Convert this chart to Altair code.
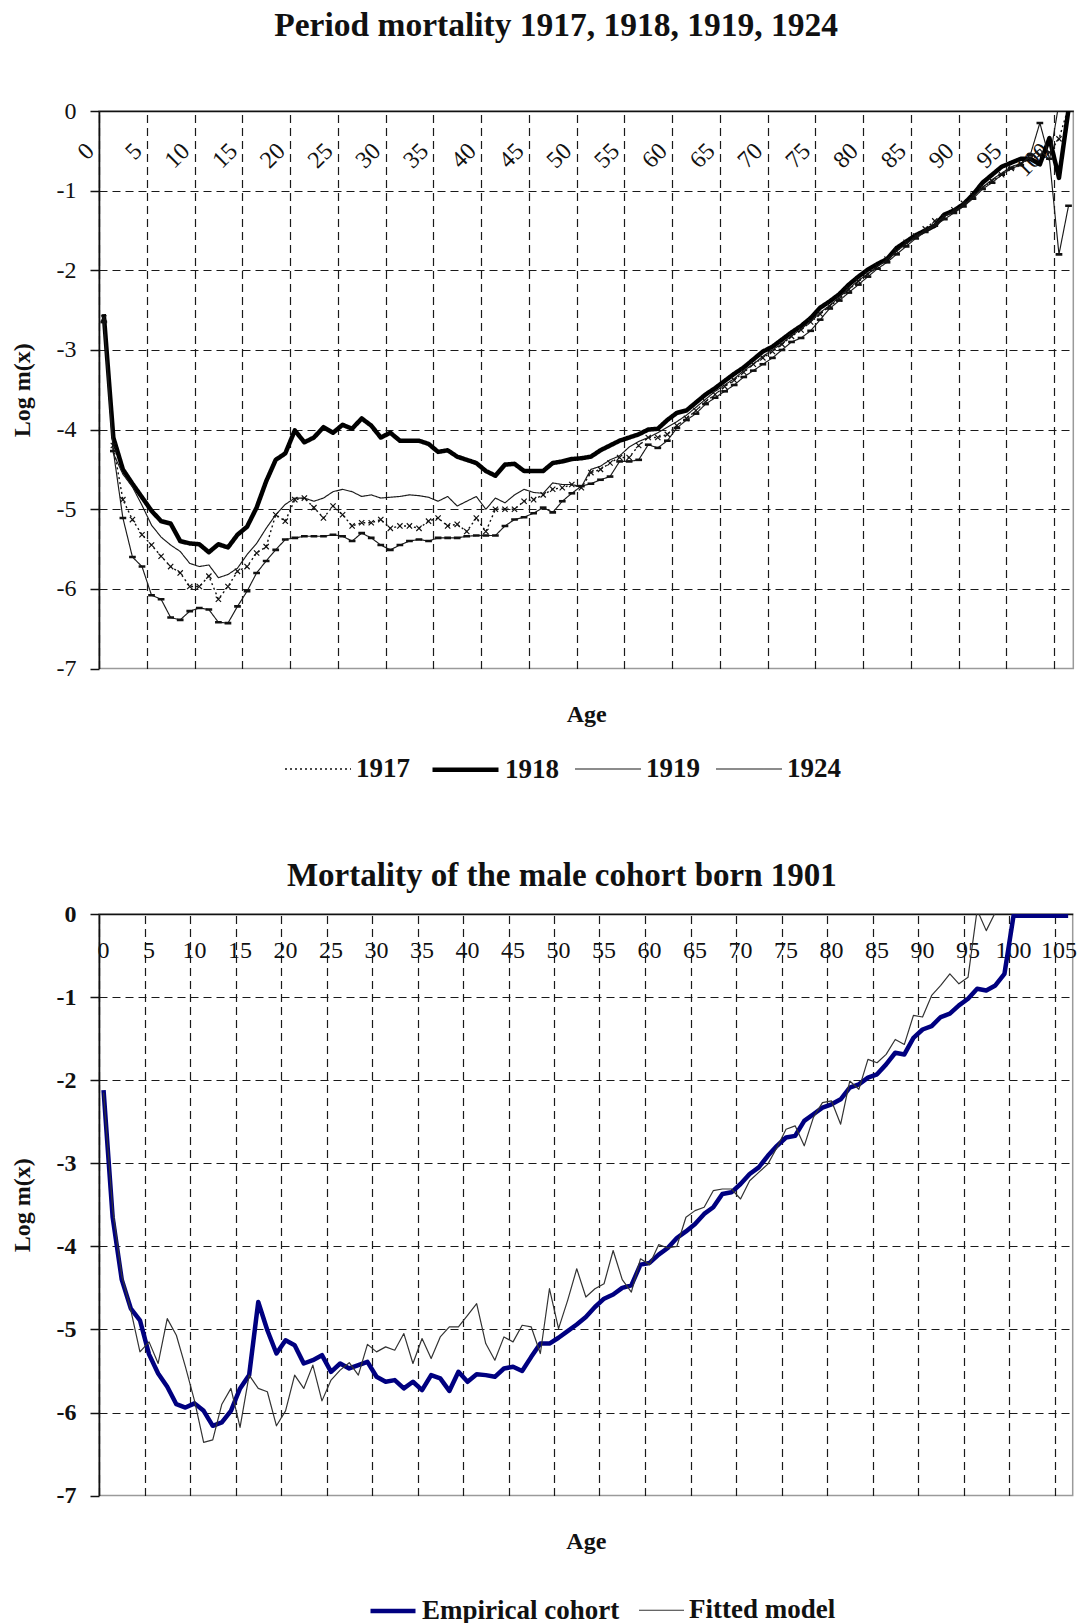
import altair as alt
import pandas as pd

# ---------------- data: period mortality (log m(x)), ages 0..101 ----------------
ages_top = list(range(102))
period_series = ["1917", "1918", "1919", "1924"]

y1917 = [-2.60, -4.20, -4.88, -5.13, -5.32, -5.45, -5.59, -5.72, -5.80, -5.97,
         -5.97, -5.84, -6.13, -5.97, -5.78, -5.72, -5.55, -5.47, -5.07, -5.15,
         -4.88, -4.86, -4.98, -5.11, -4.96, -5.07, -5.21, -5.17, -5.17, -5.13,
         -5.24, -5.21, -5.21, -5.24, -5.15, -5.11, -5.21, -5.19, -5.28, -5.11,
         -5.28, -5.00, -5.00, -5.00, -4.90, -4.88, -4.82, -4.75, -4.73, -4.69,
         -4.73, -4.54, -4.50, -4.42, -4.35, -4.35, -4.20, -4.10, -4.10, -4.06,
         -3.95, -3.86, -3.76, -3.65, -3.56, -3.46, -3.38, -3.28, -3.18, -3.10,
         -3.02, -2.93, -2.83, -2.75, -2.65, -2.55, -2.45, -2.36, -2.24, -2.14,
         -2.05, -1.95, -1.86, -1.76, -1.65, -1.57, -1.48, -1.38, -1.33, -1.24,
         -1.16, -1.06, -0.96, -0.88, -0.80, -0.72, -0.66, -0.60, -0.55, -0.52,
         -0.35, 0.05]
y1918 = [-2.55, -4.10, -4.50, -4.68, -4.85, -5.02, -5.15, -5.18, -5.40, -5.43,
         -5.44, -5.54, -5.44, -5.48, -5.32, -5.22, -4.98, -4.65, -4.38, -4.30,
         -4.01, -4.16, -4.10, -3.97, -4.04, -3.94, -3.99, -3.86, -3.95, -4.10,
         -4.04, -4.14, -4.14, -4.14, -4.18, -4.28, -4.26, -4.34, -4.38, -4.42,
         -4.52, -4.58, -4.44, -4.43, -4.52, -4.52, -4.52, -4.42, -4.40, -4.37,
         -4.36, -4.34, -4.26, -4.20, -4.14, -4.10, -4.06, -4.00, -3.99, -3.88,
         -3.79, -3.76, -3.66, -3.56, -3.48, -3.39, -3.30, -3.22, -3.12, -3.02,
         -2.96, -2.87, -2.78, -2.70, -2.60, -2.47, -2.39, -2.30, -2.18, -2.08,
         -1.99, -1.92, -1.86, -1.72, -1.64, -1.56, -1.50, -1.44, -1.30, -1.25,
         -1.17, -1.05, -0.90, -0.80, -0.70, -0.65, -0.60, -0.60, -0.67, -0.34,
         -0.84, 0.02]
y1919 = [-2.60, -4.30, -4.56, -4.72, -4.95, -5.20, -5.35, -5.45, -5.53, -5.68,
         -5.72, -5.70, -5.86, -5.82, -5.74, -5.57, -5.43, -5.24, -5.07, -4.94,
         -4.86, -4.86, -4.90, -4.86, -4.78, -4.75, -4.78, -4.84, -4.82, -4.86,
         -4.85, -4.84, -4.82, -4.83, -4.85, -4.90, -4.84, -4.96, -4.90, -4.84,
         -5.00, -4.86, -4.92, -4.82, -4.75, -4.79, -4.80, -4.67, -4.69, -4.69,
         -4.72, -4.50, -4.46, -4.38, -4.33, -4.22, -4.15, -4.10, -4.04, -3.97,
         -3.90, -3.82, -3.72, -3.62, -3.52, -3.44, -3.36, -3.26, -3.18, -3.08,
         -3.00, -2.92, -2.82, -2.74, -2.64, -2.53, -2.44, -2.34, -2.23, -2.13,
         -2.04, -1.95, -1.87, -1.76, -1.67, -1.58, -1.50, -1.42, -1.32, -1.26,
         -1.18, -1.08, -0.96, -0.86, -0.78, -0.70, -0.66, -0.58, -0.48, -0.62,
         0.10, 0.10]
y1924 = [-2.65, -4.27, -5.11, -5.60, -5.72, -6.08, -6.13, -6.36, -6.39, -6.28,
         -6.24, -6.26, -6.42, -6.43, -6.22, -6.03, -5.80, -5.65, -5.51, -5.38,
         -5.36, -5.34, -5.34, -5.34, -5.32, -5.34, -5.40, -5.30, -5.36, -5.45,
         -5.51, -5.45, -5.40, -5.38, -5.40, -5.36, -5.36, -5.36, -5.34, -5.33,
         -5.33, -5.33, -5.21, -5.13, -5.10, -5.05, -4.98, -5.04, -4.90, -4.80,
         -4.71, -4.68, -4.63, -4.59, -4.40, -4.40, -4.38, -4.19, -4.23, -4.14,
         -3.98, -3.88, -3.80, -3.68, -3.60, -3.52, -3.44, -3.34, -3.26, -3.18,
         -3.10, -3.00, -2.90, -2.85, -2.76, -2.62, -2.48, -2.38, -2.28, -2.18,
         -2.08, -1.98, -1.90, -1.80, -1.70, -1.60, -1.52, -1.44, -1.36, -1.28,
         -1.20, -1.10, -0.98, -0.90, -0.80, -0.72, -0.68, -0.55, -0.15, -0.60,
         -1.80, -1.19]

# ---------------- data: cohort born 1901 ----------------
ages_cohort = list(range(107))
cohort_series = ["Empirical cohort", "Fitted model"]

empirical = [-2.12, -3.65, -4.40, -4.75, -4.89, -5.30, -5.53, -5.69, -5.90, -5.94,
             -5.89, -5.98, -6.16, -6.12, -5.98, -5.71, -5.55, -4.67, -5.01, -5.29,
             -5.13, -5.19, -5.41, -5.37, -5.31, -5.51, -5.41, -5.47, -5.43, -5.39,
             -5.57, -5.63, -5.61, -5.71, -5.63, -5.73, -5.55, -5.59, -5.74, -5.51,
             -5.63, -5.54, -5.55, -5.57, -5.47, -5.45, -5.50, -5.33, -5.17, -5.17,
             -5.10, -5.02, -4.94, -4.85, -4.73, -4.63, -4.58, -4.50, -4.47, -4.22,
             -4.20, -4.10, -4.02, -3.90, -3.82, -3.73, -3.61, -3.53, -3.37, -3.35,
             -3.25, -3.13, -3.05, -2.91, -2.79, -2.69, -2.67, -2.49, -2.41, -2.33,
             -2.29, -2.23, -2.09, -2.05, -1.97, -1.93, -1.81, -1.67, -1.69, -1.49,
             -1.39, -1.35, -1.24, -1.20, -1.10, -1.02, -0.90, -0.92, -0.86, -0.72,
             -0.02, -0.02, -0.02, -0.02, -0.02, -0.02, -0.02]
fitted = [-2.15, -3.55, -4.35, -4.77, -5.27, -5.15, -5.41, -4.87, -5.07, -5.45,
          -5.86, -6.36, -6.33, -5.90, -5.71, -6.18, -5.55, -5.71, -5.75, -6.16,
          -5.98, -5.55, -5.71, -5.43, -5.86, -5.61, -5.49, -5.40, -5.55, -5.18,
          -5.27, -5.21, -5.25, -5.05, -5.41, -5.11, -5.35, -5.09, -4.97, -4.97,
          -4.83, -4.69, -5.17, -5.37, -5.09, -5.15, -4.95, -4.97, -5.29, -4.51,
          -4.99, -4.65, -4.27, -4.61, -4.51, -4.45, -4.05, -4.40, -4.55, -4.15,
          -4.22, -3.98, -4.02, -4.00, -3.65, -3.57, -3.53, -3.33, -3.31, -3.31,
          -3.43, -3.21, -3.11, -3.01, -2.81, -2.59, -2.55, -2.79, -2.45, -2.27,
          -2.25, -2.53, -2.01, -2.11, -1.75, -1.79, -1.69, -1.51, -1.57, -1.22,
          -1.24, -0.98, -0.86, -0.72, -0.84, -0.76, 0.05, -0.20, 0.02, 0.30]

y_ticks = [0, -1, -2, -3, -4, -5, -6, -7]
top_tick_ages = list(range(0, 101, 5))      # labels 0..100
bottom_tick_ages = list(range(0, 106, 5))   # labels 0..105

# ---------------- tables ----------------
top_df = pd.DataFrame({
    "age": ages_top * 4,
    "v": y1917 + y1918 + y1919 + y1924,
    "year": sum([[s] * len(ages_top) for s in period_series], []),
})
bottom_df = pd.DataFrame({
    "age2": ages_cohort + ages_cohort[:len(fitted)],
    "v2": empirical + fitted,
    "curve": [cohort_series[0]] * len(empirical) + [cohort_series[1]] * len(fitted),
})

SERIF = "Liberation Serif"
INK = "#111111"
GRID = "#1a1a1a"

TOP_W, TOP_H = 974.3, 557.5
BOT_W, BOT_H = 973.7, 581.6


def x_axis(values, angle, align, baseline, pad, offset, height):
    return alt.Axis(
        values=values, orient="top",
        grid=True, gridDash=[8, 5], gridColor=GRID, gridWidth=1.2,
        ticks=False, tickSize=0,
        domain=True, domainColor=INK, domainWidth=1.6,
        labelExpr="'' + round(datum.value + 0.5)",
        labelAngle=angle, labelAlign=align, labelBaseline=baseline,
        labelPadding=pad, labelOffset=offset,
        labelFont=SERIF, labelFontSize=24, labelColor=INK,
        labelOverlap=False, labelFlush=False,
        title="Age", titleFont=SERIF, titleFontSize=24, titleFontWeight="bold",
        titleColor=INK, titleY=height + 46, titleBaseline="middle",
    )


def y_axis(weight, title_x, height):
    return alt.Axis(
        values=y_ticks,
        grid=True, gridDash=[8, 5], gridColor=GRID, gridWidth=1.2,
        gridOpacity={"condition": {"test": "datum.value <= -7 || datum.value >= 0", "value": 0}, "value": 1},
        ticks=True, tickSize=9, tickColor=INK, tickWidth=1.5,
        domain=True, domainColor=INK, domainWidth=1.6,
        labelExpr="'' + datum.value", labelPadding=14,
        labelFont=SERIF, labelFontSize=24, labelFontWeight=weight, labelColor=INK,
        title="Log m(x)", titleFont=SERIF, titleFontSize=24, titleFontWeight="bold",
        titleColor=INK, titleX=title_x, titleY=height / 2, titleAngle=270,
        titleAlign="center", titleBaseline="middle",
    )


# ---------------- top chart ----------------
top_x = alt.X("age:Q", scale=alt.Scale(domain=[-0.5, 101.5], nice=False, zero=False),
              axis=x_axis([a - 0.5 for a in top_tick_ages], 315, "right", "middle", -36, -9, TOP_H))
top_y = alt.Y("v:Q", scale=alt.Scale(domain=[-7, 0], nice=False, zero=False),
              axis=y_axis("normal", -76.5, TOP_H))

top_legend = alt.Legend(
    orient="none", legendX=185, legendY=623, direction="horizontal", title=None,
    symbolType="stroke", symbolSize=4356, labelFont=SERIF, labelFontSize=27,
    labelFontWeight="bold", labelColor=INK, labelOffset=4, columnPadding=13, padding=0,
    labelLimit=400,
)

top_lines = alt.Chart(top_df).mark_line(clip=True, strokeJoin="round").encode(
    x=top_x, y=top_y,
    color=alt.Color("year:N", scale=alt.Scale(domain=period_series, range=["#111111", "#000000", "#1a1a1a", "#1a1a1a"]), legend=top_legend),
    strokeDash=alt.StrokeDash("year:N", scale=alt.Scale(domain=period_series, range=[[2, 3], [1, 0], [1, 0], [1, 0]]), legend=top_legend),
    strokeWidth=alt.StrokeWidth("year:N", scale=alt.Scale(type="ordinal", domain=period_series, range=[1.4, 4.5, 1.15, 1.15]), legend=top_legend),
    order=alt.Order("age:Q"),
)

x_marks = alt.Chart(top_df).transform_filter(alt.datum.year == "1917").mark_point(
    shape="M-1,-1L1,1M-1,1L1,-1", size=28, filled=False, strokeWidth=1.2,
    color="#111111", opacity=1, clip=True,
).encode(x=top_x, y=top_y)

dash_marks = alt.Chart(top_df).transform_filter(alt.datum.year == "1924").mark_point(
    shape="M-1,0L1,0", size=45, filled=False, strokeWidth=2.6,
    color="#111111", opacity=1, clip=True,
).encode(x=top_x, y=top_y)

top = alt.layer(top_lines, x_marks, dash_marks).properties(
    width=TOP_W, height=TOP_H,
    title=alt.Title("Period mortality 1917, 1918, 1919, 1924", font=SERIF, fontSize=33.5,
                    fontWeight="bold", color=INK, anchor="middle", baseline="middle",
                    offset=40, dx=-30),
)

# ---------------- bottom chart ----------------
bot_x = alt.X("age2:Q", scale=alt.Scale(domain=[-0.5, 106.5], nice=False, zero=False),
              axis=x_axis([a - 0.5 for a in bottom_tick_ages], 0, "center", "middle", -36.7, 4, BOT_H))
bot_y = alt.Y("v2:Q", scale=alt.Scale(domain=[-7, 0], nice=False, zero=False),
              axis=y_axis("bold", -76.5, BOT_H))

bot_legend = alt.Legend(
    orient="none", legendX=269, legendY=672, direction="horizontal", title=None,
    symbolType="stroke", symbolSize=2025, labelFont=SERIF, labelFontSize=27,
    labelFontWeight="bold", labelColor=INK, labelOffset=4, columnPadding=16, padding=0,
    labelLimit=400,
)

bottom_lines = alt.Chart(bottom_df).mark_line(clip=True, strokeJoin="round").encode(
    x=bot_x, y=bot_y,
    color=alt.Color("curve:N", scale=alt.Scale(domain=cohort_series, range=["#000080", "#333333"]), legend=bot_legend),
    strokeWidth=alt.StrokeWidth("curve:N", scale=alt.Scale(type="ordinal", domain=cohort_series, range=[4.5, 1.2]), legend=bot_legend),
    order=alt.Order("age2:Q"),
)

bottom = alt.layer(bottom_lines).properties(
    width=BOT_W, height=BOT_H,
    title=alt.Title("Mortality of the male cohort born 1901", font=SERIF, fontSize=33,
                    fontWeight="bold", color=INK, anchor="middle", baseline="middle",
                    offset=-7, dx=-24),
)

chart = alt.vconcat(top, bottom, spacing=75).resolve_scale(
    color="independent", strokeWidth="independent", strokeDash="independent",
    x="independent", y="independent",
).resolve_legend(
    color="independent", strokeWidth="independent", strokeDash="independent",
).configure_view(
    stroke="#9a9a9a", strokeWidth=1.5
).properties(
    background="white",
    padding={"left": 9, "top": 7, "right": 0, "bottom": 0},
)

chart.save("out.html", embed_options={"renderer": "svg", "actions": False})
